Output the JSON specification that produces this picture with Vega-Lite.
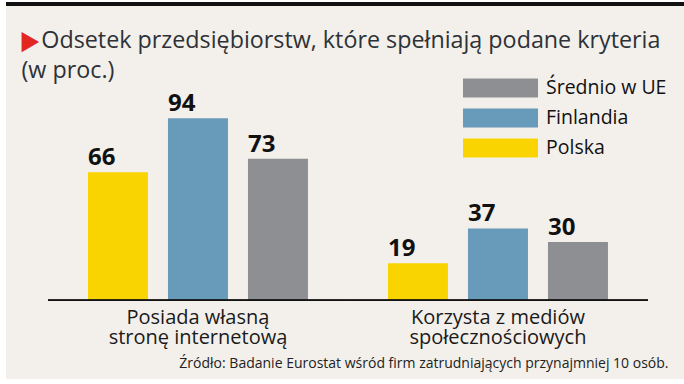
{
  "$schema": "https://vega.github.io/schema/vega-lite/v6.json",
  "width": 678,
  "height": 375,
  "autosize": {"type": "none"},
  "padding": {"left": 6, "top": 4, "right": 0, "bottom": 5},
  "background": "#ffffff",
  "config": {
    "view": {"fill": "#f3f0eb", "stroke": "#111111", "strokeWidth": 4, "strokeDash": [678, 3000]},
    "font": "Open Sans"
  },
  "title": {
    "text": ["\u200d\u2002\u2005\u200aOdsetek przedsiębiorstw, które spełniają podane kryteria", "(w proc.)"],
    "anchor": "start",
    "frame": "group",
    "orient": "top",
    "offset": 0,
    "baseline": "top",
    "dx": 15.5,
    "dy": 79,
    "color": "#2e3237",
    "font": "Open Sans",
    "fontSize": 23.3,
    "fontWeight": "normal",
    "lineHeight": 30
  },
  "data": {
    "values": [
      {"kategoria": "Posiada własną stronę internetową", "seria": "Polska", "wartosc": 66},
      {"kategoria": "Posiada własną stronę internetową", "seria": "Finlandia", "wartosc": 94},
      {"kategoria": "Posiada własną stronę internetową", "seria": "Średnio w UE", "wartosc": 73},
      {"kategoria": "Korzysta z mediów społecznościowych", "seria": "Polska", "wartosc": 19},
      {"kategoria": "Korzysta z mediów społecznościowych", "seria": "Finlandia", "wartosc": 37},
      {"kategoria": "Korzysta z mediów społecznościowych", "seria": "Średnio w UE", "wartosc": 30}
    ]
  },
  "encoding": {
    "x": {
      "field": "kategoria",
      "type": "nominal",
      "sort": null,
      "scale": {"paddingInner": 0, "paddingOuter": 0.13, "align": 0.538},
      "axis": {
        "orient": "bottom",
        "offset": -79,
        "domain": false,
        "ticks": false,
        "labelAngle": 0,
        "labelLimit": 0,
        "labelOverlap": false,
        "labelExpr": "datum.value == 'Posiada własną stronę internetową' ? ['Posiada własną', 'stronę internetową'] : ['Korzysta z mediów', 'społecznościowych']",
        "labelFont": "Open Sans",
        "labelFontSize": 20,
        "labelColor": "#1a1a1a",
        "labelBaseline": "top",
        "labelPadding": 7,
        "labelLineHeight": 20,
        "title": "Źródło: Badanie Eurostat wśród firm zatrudniających przynajmniej 10 osób.",
        "titleX": 662,
        "titleY": 67,
        "titleAlign": "right",
        "titleBaseline": "alphabetic",
        "titleFont": "Open Sans",
        "titleFontSize": 14,
        "titleFontWeight": "normal",
        "titleColor": "#222222"
      }
    },
    "y": {
      "field": "wartosc",
      "type": "quantitative",
      "scale": {"domain": [-40.8, 153], "nice": false, "zero": false},
      "axis": {
        "labels": false,
        "ticks": false,
        "domain": false,
        "grid": false,
        "title": "▶",
        "titleAngle": 0,
        "titleX": 12.5,
        "titleY": 45,
        "titleAlign": "left",
        "titleBaseline": "alphabetic",
        "titleFont": "Noto Sans CJK JP",
        "titleFontSize": 21.5,
        "titleFontWeight": "normal",
        "titleColor": "#e3261f"
      }
    }
  },
  "layer": [
    {
      "mark": {"type": "bar"},
      "encoding": {
        "xOffset": {
          "field": "seria",
          "type": "nominal",
          "sort": ["Polska", "Finlandia", "Średnio w UE"],
          "scale": {"paddingInner": 0.25, "paddingOuter": 0.5}
        },
        "color": {
          "field": "seria",
          "type": "nominal",
          "scale": {
            "domain": ["Średnio w UE", "Finlandia", "Polska"],
            "range": ["#8e8f93", "#689aba", "#fad400"]
          },
          "legend": {
            "orient": "none",
            "legendX": 484.5,
            "legendY": 74,
            "title": null,
            "padding": 0,
            "symbolType": "M-3.75,-0.95H3.75V0.95H-3.75Z",
            "symbolSize": 400,
            "symbolStrokeWidth": 0,
            "symbolOpacity": 1,
            "labelFont": "Open Sans",
            "labelFontSize": 19.5,
            "labelColor": "#111111",
            "labelOffset": 35.5,
            "rowPadding": 10
          }
        }
      }
    },
    {
      "mark": {"type": "text", "align": "left", "dx": -30, "dy": -7, "baseline": "alphabetic", "font": "Open Sans", "fontWeight": "bold", "fontSize": 24, "color": "#111111"},
      "encoding": {
        "xOffset": {
          "field": "seria",
          "type": "nominal",
          "sort": ["Polska", "Finlandia", "Średnio w UE"]
        },
        "text": {"field": "wartosc", "type": "quantitative"}
      }
    },
    {
      "mark": {"type": "bar", "fill": null, "stroke": "#111111", "strokeWidth": 1.3},
      "encoding": {
        "y": {"datum": 0},
        "y2": {"datum": 0}
      }
    }
  ]
}
